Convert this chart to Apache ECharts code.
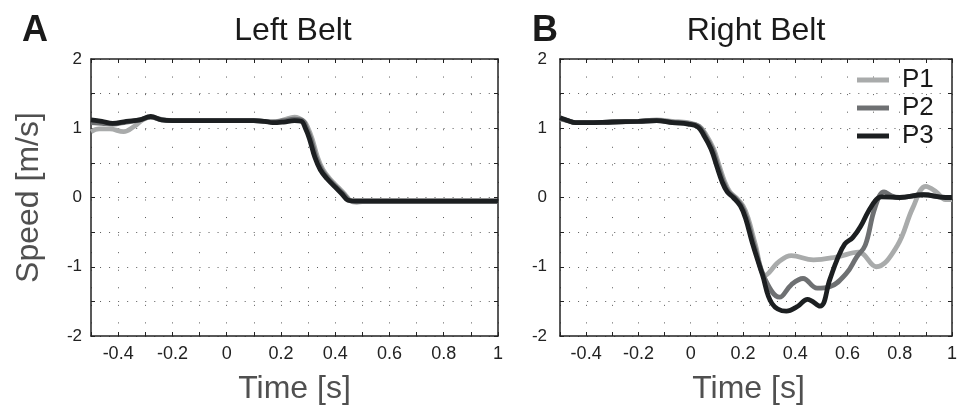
<!DOCTYPE html>
<html>
<head>
<meta charset="utf-8">
<script src="https://cdn.jsdelivr.net/npm/echarts@6/dist/echarts.min.js"></script>
<style>html,body{margin:0;padding:0;background:#fff}#c{width:960px;height:410px}</style>
</head>
<body>
<div id="c"></div>
<script>
// ---- data ----
var xTicks = [-0.4, -0.2, 0, 0.2, 0.4, 0.6, 0.8, 1];
var yTicks = [-2, -1, 0, 1, 2];
var seriesNames = ['P1', 'P2', 'P3'];

var leftT1 = [-0.5,-0.47,-0.43,-0.38,-0.34,-0.31,-0.28,-0.24,-0.2,-0.1,0,0.1,0.14,0.17,0.21,0.25,0.285,0.3,0.315,0.335,0.355,0.38,0.41,0.435,0.457,0.48,0.5,0.7,1.0];
var leftV1 = [0.95,0.99,0.99,0.95,1.03,1.12,1.16,1.13,1.11,1.11,1.11,1.11,1.1,1.09,1.12,1.16,1.1,1.0,0.85,0.58,0.4,0.27,0.15,0.05,-0.05,-0.07,-0.06,-0.06,-0.06];
var leftT2 = [-0.5,-0.46,-0.42,-0.37,-0.32,-0.28,-0.24,-0.2,-0.1,0,0.1,0.14,0.17,0.21,0.25,0.28,0.295,0.31,0.33,0.35,0.375,0.405,0.43,0.452,0.475,0.5,0.7,1.0];
var leftV2 = [1.08,1.07,1.06,1.09,1.12,1.16,1.12,1.11,1.11,1.11,1.11,1.1,1.09,1.11,1.13,1.11,1.0,0.85,0.58,0.4,0.27,0.15,0.05,-0.04,-0.06,-0.06,-0.06,-0.06];
var leftT3 = [-0.5,-0.46,-0.42,-0.37,-0.32,-0.28,-0.24,-0.2,-0.1,0,0.1,0.14,0.17,0.21,0.25,0.275,0.29,0.305,0.325,0.345,0.37,0.4,0.425,0.447,0.47,0.5,0.7,1.0];
var leftV3 = [1.12,1.1,1.07,1.1,1.12,1.17,1.12,1.11,1.11,1.11,1.11,1.1,1.08,1.09,1.11,1.1,1.0,0.85,0.58,0.4,0.27,0.15,0.05,-0.04,-0.05,-0.05,-0.05,-0.05];

var rightT1 = [-0.5,-0.47,-0.44,-0.4,-0.3,-0.2,-0.13,-0.07,-0.01,0.033,0.06,0.088,0.11,0.13,0.15,0.173,0.2,0.22,0.247,0.286,0.337,0.385,0.47,0.557,0.643,0.71,0.79,0.85,0.9,0.94,0.975,1.0];
var rightV1 = [1.13,1.11,1.08,1.08,1.09,1.1,1.12,1.1,1.08,1.03,0.9,0.7,0.45,0.23,0.08,0,-0.12,-0.3,-0.67,-1.12,-0.93,-0.84,-0.9,-0.86,-0.79,-1.0,-0.7,-0.15,0.16,0.08,-0.03,-0.03];
var rightT2 = [-0.5,-0.47,-0.44,-0.4,-0.3,-0.2,-0.13,-0.07,-0.01,0.03,0.055,0.083,0.105,0.125,0.145,0.168,0.195,0.215,0.242,0.286,0.34,0.385,0.43,0.484,0.532,0.595,0.635,0.668,0.705,0.74,0.77,0.8,0.89,0.975,1.0];
var rightV2 = [1.14,1.11,1.08,1.08,1.09,1.1,1.11,1.09,1.07,1.03,0.9,0.7,0.45,0.23,0.08,0,-0.12,-0.3,-0.67,-1.19,-1.44,-1.26,-1.17,-1.31,-1.29,-1.1,-0.86,-0.69,-0.15,0.08,0.02,0.0,0.04,0.0,0.0];
var rightT3 = [-0.5,-0.47,-0.44,-0.4,-0.3,-0.2,-0.13,-0.07,-0.01,0.027,0.05,0.078,0.1,0.12,0.14,0.163,0.19,0.21,0.237,0.275,0.311,0.366,0.41,0.447,0.495,0.532,0.56,0.59,0.62,0.65,0.68,0.71,0.73,0.8,0.89,0.975,1.0];
var rightV3 = [1.15,1.11,1.08,1.08,1.09,1.1,1.11,1.08,1.06,1.02,0.9,0.7,0.45,0.23,0.08,0,-0.12,-0.3,-0.67,-1.12,-1.53,-1.64,-1.57,-1.47,-1.57,-1.19,-0.9,-0.67,-0.58,-0.42,-0.2,-0.03,0.01,0.0,0.04,0.0,0.0];

// ---- build ----
function zip(t, v) { return t.map(function (x, i) { return [x, v[i]]; }); }
var colors = ['#a9abab', '#6e7072', '#1c1f21'];
var FONT = '"Liberation Sans", Arial, Helvetica, sans-serif';
var dotColor = '#5a5a5a';

function xAx(gridIndex, top, showName, namePad) {
  return {
    type: 'value', gridIndex: gridIndex, position: top ? 'top' : 'bottom',
    min: -0.5, max: 1, interval: 0.1,
    axisLine: { show: true, onZero: false, lineStyle: { color: '#222', width: 1.5 } },
    axisTick: { show: true, inside: true, length: 4, lineStyle: { color: '#222', width: 1 } },
    axisLabel: {
      show: !top, margin: 9, fontSize: 18, color: '#222', fontFamily: FONT,
      formatter: function (v) {
        var s = Math.round(v * 10) / 10;
        return xTicks.indexOf(s) >= 0 ? String(s) : '';
      }
    },
    splitLine: top ? { show: false } : { show: true, lineStyle: { color: dotColor, width: 1, type: [1, 16.56] } },
    name: showName ? 'Time [s]' : '', nameLocation: 'middle', nameGap: 37,
    nameTextStyle: { fontSize: 32, color: '#505050', fontFamily: FONT, padding: namePad || 0 }
  };
}
function yAx(gridIndex, right, showName, margin) {
  return {
    type: 'value', gridIndex: gridIndex, position: right ? 'right' : 'left',
    min: -2, max: 2, interval: 0.5,
    axisLine: { show: true, onZero: false, lineStyle: { color: '#222', width: 1.5 } },
    axisTick: { show: true, inside: true, length: 4, lineStyle: { color: '#222', width: 1 } },
    axisLabel: {
      show: !right, margin: margin, fontSize: 17, color: '#222', fontFamily: FONT,
      formatter: function (v) { return yTicks.indexOf(v) >= 0 ? String(v) : ''; }
    },
    splitLine: right ? { show: false } : { show: true, lineStyle: { color: dotColor, width: 1, type: [1, 8.04] } },
    name: showName ? 'Speed [m/s]' : '', nameLocation: 'middle', nameGap: 46,
    nameTextStyle: { fontSize: 32, color: '#505050', fontFamily: FONT }
  };
}

function mk(name, idx, data, axisIdx) {
  return {
    type: 'line', name: name, data: data, xAxisIndex: axisIdx, yAxisIndex: axisIdx,
    smooth: 0.4, symbol: 'none', clip: true,
    lineStyle: { color: colors[idx], width: 4.8 }, itemStyle: { color: colors[idx] }, z: 3 + idx
  };
}

var option = {
  animation: false,
  backgroundColor: '#fff',
  grid: [
    { left: 91, top: 59, width: 407, height: 281 },
    { left: 560, top: 59, width: 407, height: 281 }
  ],
  xAxis: [xAx(0, false, true), xAx(0, true, false), xAx(1, false, true, [0, 15, 0, 0]), xAx(1, true, false)],
  yAxis: [yAx(0, false, true, 9), yAx(0, true, false, 9), yAx(1, false, false, 13), yAx(1, true, false, 9)],
  legend: {
    data: seriesNames, orient: 'vertical', left: 852, top: 61, itemWidth: 32, itemHeight: 5, itemGap: 0,
    icon: 'rect',
    textStyle: { fontSize: 26, color: '#1a1a1a', fontFamily: FONT, lineHeight: 28, padding: [0, 0, 0, 8] }
  },
  graphic: [
    { type: 'text', left: 22, top: 13, style: { text: 'A', font: 'bold 36px ' + FONT, fill: '#1a1a1a' } },
    { type: 'text', left: 532, top: 13, style: { text: 'B', font: 'bold 36px ' + FONT, fill: '#1a1a1a' } },
    { type: 'text', x: 293, y: 31, style: { text: 'Left Belt', font: '32px ' + FONT, fill: '#1a1a1a', align: 'center', verticalAlign: 'middle' } },
    { type: 'text', x: 756, y: 31, style: { text: 'Right Belt', font: '32px ' + FONT, fill: '#1a1a1a', align: 'center', verticalAlign: 'middle' } }
  ],
  series: [
    mk('P1', 0, zip(leftT1, leftV1), 0),
    mk('P2', 1, zip(leftT2, leftV2), 0),
    mk('P3', 2, zip(leftT3, leftV3), 0),
    mk('P1', 0, zip(rightT1, rightV1), 2),
    mk('P2', 1, zip(rightT2, rightV2), 2),
    mk('P3', 2, zip(rightT3, rightV3), 2)
  ]
};
var chart = echarts.init(document.getElementById('c'), null, { renderer: 'canvas' });
chart.setOption(option);
</script>
</body>
</html>
